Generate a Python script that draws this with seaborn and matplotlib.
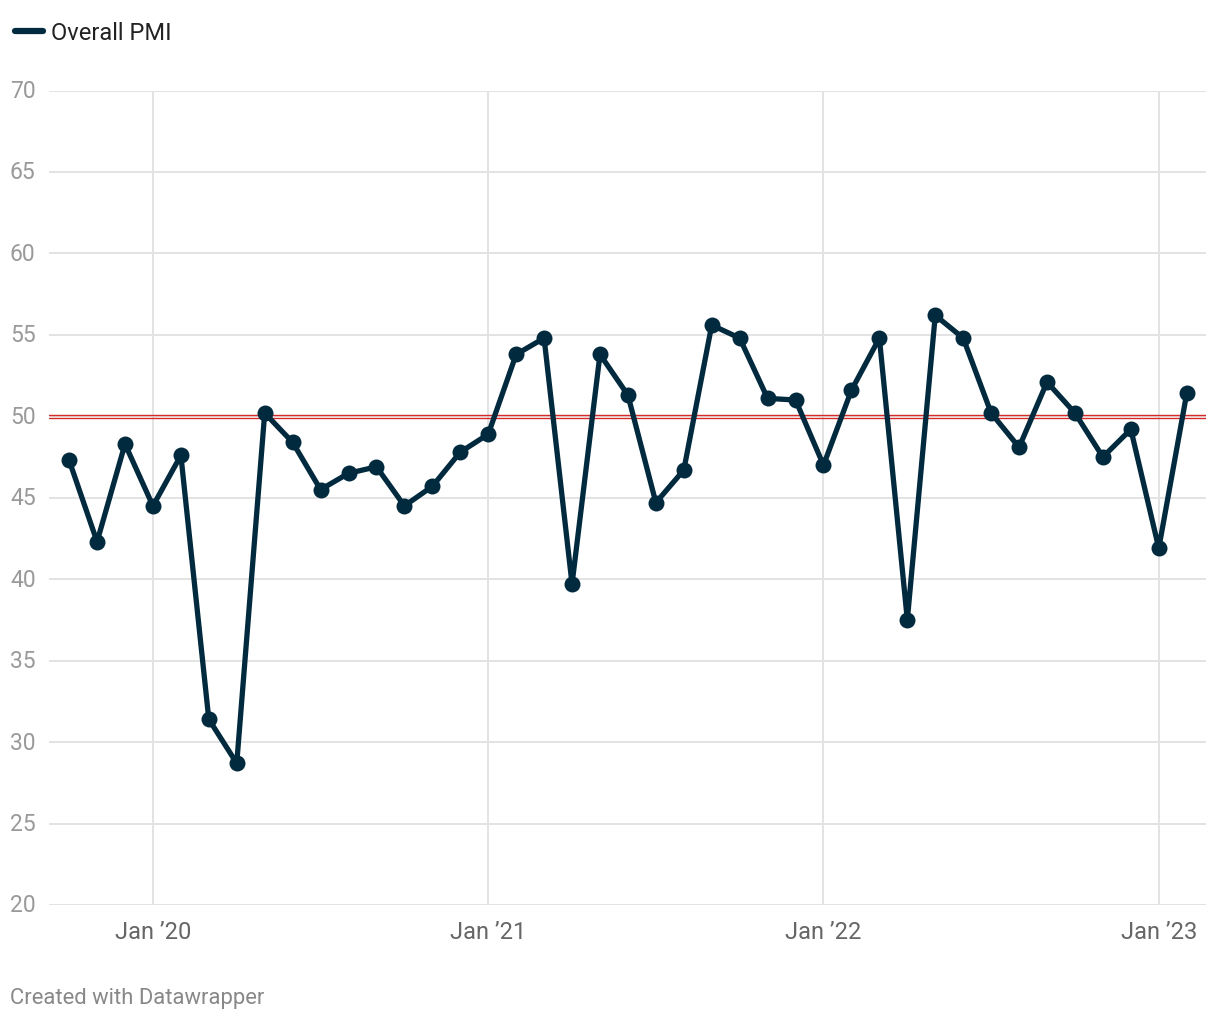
import matplotlib
matplotlib.use("Agg")
import matplotlib.pyplot as plt
from matplotlib.lines import Line2D
import seaborn as sns
import pandas as pd

# Monthly data, Oct 2019 .. Feb 2023
months = pd.date_range("2019-10-01", "2023-02-01", freq="MS")
pmi = [47.3, 42.3, 48.3, 44.5, 47.6, 31.4, 28.7, 50.2, 48.4, 45.5,
       46.5, 46.9, 44.5, 45.7, 47.8, 48.9, 53.8, 54.8, 39.7, 53.8,
       51.3, 44.7, 46.7, 55.6, 54.8, 51.1, 51.0, 47.0, 51.6, 54.8,
       37.5, 56.2, 54.8, 50.2, 48.1, 52.1, 50.2, 47.5, 49.2, 41.9,
       51.4]
tick_labels = ["Jan \u201920", "Jan \u201921", "Jan \u201922", "Jan \u201923"]
y_ticks = [20, 25, 30, 35, 40, 45, 50, 55, 60, 65, 70]
series_name = "Overall PMI"

df = pd.DataFrame({"idx": range(len(pmi)), "value": pmi})

sns.set_theme(style="white")
plt.rcParams["font.family"] = ["Roboto", "DejaVu Sans"]

LINE = "#022a3e"
fig = plt.figure(figsize=(12.2, 10.2), dpi=100)
top_px, bot_px = 91.5, 906.0
left_px, right_px = 49, 1206
ax = fig.add_axes([left_px / 1220, 1 - bot_px / 1020,
                   (right_px - left_px) / 1220, (bot_px - top_px) / 1020])

# gridlines
for y in y_ticks:
    ax.axhline(y, color="#e3e3e3", lw=1.4, zorder=0)
jan_idx = [3, 15, 27, 39]
for x in jan_idx:
    ax.axvline(x, color="#e3e3e3", lw=1.4, zorder=0)

# reference at 50 (double red line)
ax.axhline(50.09, color="#d42a2a", lw=1.0, zorder=1)
ax.axhline(49.91, color="#d42a2a", lw=1.0, zorder=1)

sns.lineplot(data=df, x="idx", y="value", ax=ax, color=LINE, lw=3.8,
             marker="o", markersize=11.5, markeredgewidth=0,
             markerfacecolor=LINE, zorder=3, legend=False)

ax.set_xlim(-0.72, 40.69)
ax.set_ylim(20, 70)
for s in ax.spines.values():
    s.set_visible(False)
ax.set_xlabel("")
ax.set_ylabel("")

ax.set_yticks(y_ticks)
ax.set_yticklabels([str(v) for v in y_ticks])
ax.tick_params(axis="y", length=0, pad=28.1, labelsize=16.5, labelcolor="#9a9a9a")
for lab in ax.get_yticklabels():
    lab.set_horizontalalignment("left")
    lab.set_verticalalignment("center")

ax.set_xticks(jan_idx)
ax.set_xticklabels(tick_labels)
ax.tick_params(axis="x", length=0, pad=11, labelsize=17, labelcolor="#666666")

# legend
handle = Line2D([0], [0], color=LINE, lw=4.5, solid_capstyle="round")
fig.legend([handle], [series_name], loc="center left",
           bbox_to_anchor=(6 / 1220, 1 - 33.5 / 1020), frameon=False,
           fontsize=17, handlelength=1.15, handletextpad=0.35,
           labelcolor="#222222", borderaxespad=0)

fig.text(10 / 1220, 1 - 999 / 1020, "Created with Datawrapper",
         fontsize=15.8, color="#888888", ha="left", va="center")

fig.savefig("out.png", dpi=100, facecolor="white")
